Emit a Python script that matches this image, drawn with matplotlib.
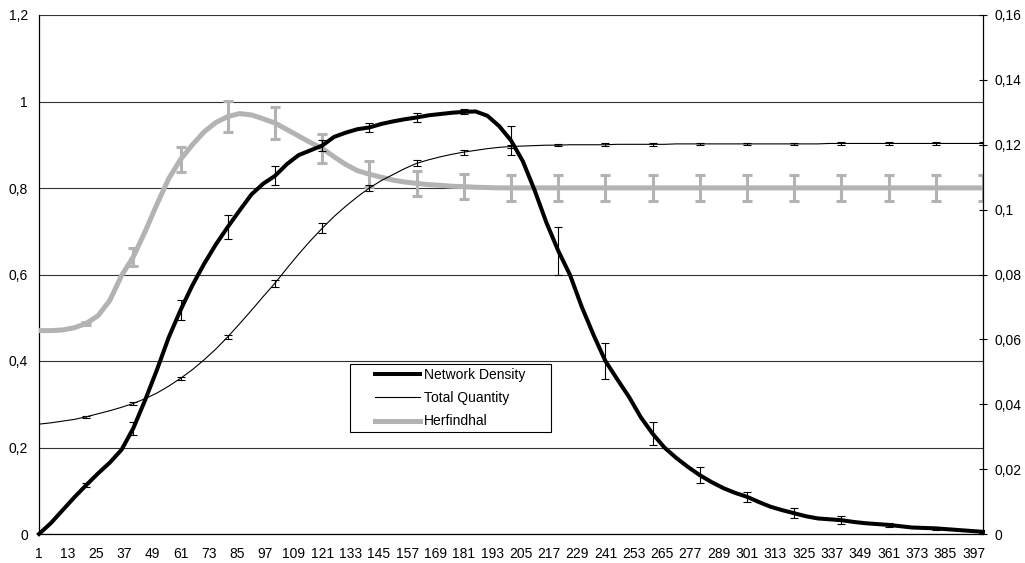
import matplotlib
matplotlib.use("Agg")
import matplotlib.pyplot as plt
from matplotlib.lines import Line2D
from matplotlib.patches import Rectangle

plt.rcParams['font.family'] = ['Liberation Sans', 'DejaVu Sans']
plt.rcParams['font.size'] = 10

# categories sampled every 5 steps (1 ... 401)
steps = list(range(1, 402, 5))

network_density = [
    0.0, 0.025, 0.055, 0.085, 0.113, 0.14, 0.165, 0.195, 0.245, 0.31,
    0.38, 0.455, 0.518, 0.575, 0.625, 0.67, 0.71, 0.748, 0.785, 0.81,
    0.828, 0.855, 0.876, 0.887, 0.898, 0.918, 0.928, 0.936, 0.94, 0.948,
    0.954, 0.959, 0.963, 0.968, 0.971, 0.974, 0.976, 0.977, 0.967, 0.943,
    0.91, 0.862, 0.795, 0.72, 0.655, 0.599, 0.525, 0.46, 0.40, 0.358,
    0.317, 0.27, 0.232, 0.2, 0.176, 0.155, 0.136, 0.12, 0.106, 0.095,
    0.086, 0.074, 0.063, 0.055, 0.048, 0.041, 0.036, 0.034, 0.032, 0.028,
    0.025, 0.023, 0.021, 0.018, 0.015, 0.014, 0.013, 0.011, 0.009, 0.007,
    0.005,
]

total_quantity = [
    0.254, 0.257, 0.261, 0.265, 0.271, 0.278, 0.285, 0.293, 0.302, 0.313,
    0.326, 0.342, 0.36, 0.38, 0.403, 0.428, 0.456, 0.486, 0.517, 0.549,
    0.58, 0.614, 0.647, 0.678, 0.707, 0.734, 0.758, 0.78, 0.80, 0.817,
    0.831, 0.845, 0.857, 0.865, 0.872, 0.878, 0.883, 0.887, 0.891, 0.894,
    0.896, 0.897, 0.898, 0.899, 0.899, 0.9, 0.9, 0.9, 0.9, 0.901,
    0.901, 0.901, 0.901, 0.901, 0.902, 0.902, 0.902, 0.902, 0.902, 0.902,
    0.902, 0.902, 0.902, 0.902, 0.902, 0.902, 0.902, 0.903, 0.903, 0.903,
    0.903, 0.903, 0.903, 0.903, 0.903, 0.903, 0.903, 0.903, 0.903, 0.903,
    0.903,
]

herfindhal = [
    0.0627, 0.0627, 0.0629, 0.0636, 0.0649, 0.0673, 0.0720, 0.0797, 0.0855, 0.0933,
    0.1017, 0.1096, 0.1155, 0.1200, 0.1240, 0.1269, 0.1287, 0.1296, 0.1292, 0.1280,
    0.1267, 0.1247, 0.1227, 0.1207, 0.1189, 0.1163, 0.1139, 0.1120, 0.1109, 0.1100,
    0.1091, 0.1085, 0.1081, 0.1077, 0.1075, 0.1072, 0.1071, 0.1069, 0.1068, 0.1067,
    0.1067, 0.1067, 0.1067, 0.1067, 0.1067, 0.1067, 0.1067, 0.1067, 0.1067, 0.1067,
    0.1067, 0.1067, 0.1067, 0.1067, 0.1067, 0.1067, 0.1067, 0.1067, 0.1067, 0.1067,
    0.1067, 0.1067, 0.1067, 0.1067, 0.1067, 0.1067, 0.1067, 0.1067, 0.1067, 0.1067,
    0.1067, 0.1067, 0.1067, 0.1067, 0.1067, 0.1067, 0.1067, 0.1067, 0.1067, 0.1067,
    0.1067,
]

# error bars every 20 steps
err_steps = list(range(21, 402, 20))
nd_err = [0.005, 0.015, 0.023, 0.027, 0.022, 0.012, 0.011, 0.010, 0.006, 0.033,
          0.055, 0.042, 0.027, 0.018, 0.012, 0.011, 0.009, 0.004, 0.003, 0.002]
tq_err = [0.002, 0.004, 0.003, 0.005, 0.008, 0.012, 0.008, 0.007, 0.006, 0.004,
          0.003, 0.003, 0.003, 0.003, 0.003, 0.003, 0.003, 0.003, 0.003, 0.003]
h_err = [0.0005, 0.0028, 0.0039, 0.0049, 0.0048, 0.0044, 0.0040, 0.0039, 0.0039, 0.0039,
         0.0039, 0.0039, 0.0039, 0.0039, 0.0039, 0.0039, 0.0039, 0.0039, 0.0039, 0.0039]

x_ticks = list(range(1, 402, 12))
left_ticks = [0, 0.2, 0.4, 0.6, 0.8, 1.0, 1.2]
left_labels = ["0", "0,2", "0,4", "0,6", "0,8", "1", "1,2"]
right_ticks = [0, 0.02, 0.04, 0.06, 0.08, 0.10, 0.12, 0.14, 0.16]
right_labels = ["0", "0,02", "0,04", "0,06", "0,08", "0,1", "0,12", "0,14", "0,16"]

GRAY = "#b3b3b3"


def at_steps(values):
    return [values[steps.index(s)] for s in err_steps]


fig = plt.figure(figsize=(10.25, 5.63), dpi=100)
ax = fig.add_axes([39 / 1025, 29 / 563, 944 / 1025, 519 / 563])
ax2 = ax.twinx()
ax3 = ax.twinx()
ax.set_zorder(1)
ax2.set_zorder(2)
ax3.set_zorder(3)
ax2.patch.set_visible(False)
ax3.patch.set_visible(False)

# base axis: grid, left ticks, category labels
ax.set_xlim(1, 401)
ax.set_ylim(0, 1.2)
ax.set_yticks(left_ticks)
ax.set_yticklabels(left_labels)
ax.set_xticks(x_ticks)
ax.set_xticklabels([str(t) for t in x_ticks])
ax.tick_params(axis="y", length=0, pad=8)
ax.tick_params(axis="x", length=0, pad=9)
ax.yaxis.grid(True, color="#333333", linewidth=0.8)
ax.set_axisbelow(True)
for side in ["top", "right"]:
    ax.spines[side].set_visible(False)
ax.spines["left"].set_linewidth(0.9)
ax.spines["bottom"].set_linewidth(0.9)

# right axis: Herfindhal
ax2.set_ylim(0, 0.16)
ax2.set_yticks(right_ticks)
ax2.set_yticklabels(right_labels)
ax2.tick_params(axis="y", direction="inout", length=6, width=0.8, pad=5)
for side in ["top", "left", "bottom"]:
    ax2.spines[side].set_visible(False)
ax2.spines["right"].set_linewidth(0.9)
ax2.plot(steps, herfindhal, color=GRAY, linewidth=3.6, solid_capstyle="butt")
ax2.errorbar(err_steps, at_steps(herfindhal), yerr=h_err, fmt="none",
             ecolor=GRAY, elinewidth=2.2, capsize=3.8, capthick=2.2)

# top layer: density and quantity on the left scale
ax3.set_ylim(0, 1.2)
ax3.set_yticks([])
for side in ax3.spines:
    ax3.spines[side].set_visible(False)
ax3.plot(steps, total_quantity, color="black", linewidth=0.8)
ax3.errorbar(err_steps, at_steps(total_quantity), yerr=tq_err, fmt="none",
             ecolor="black", elinewidth=0.8, capsize=2.9, capthick=0.8)
ax3.plot(steps, network_density, color="black", linewidth=2.9, clip_on=False)
ax3.errorbar(err_steps, at_steps(network_density), yerr=nd_err, fmt="none",
             ecolor="black", elinewidth=0.8, capsize=2.9, capthick=0.8)

# legend box with centred entries
box = (0.329, 0.1965, 0.213, 0.131)
ax3.add_patch(Rectangle(box[:2], box[2], box[3], transform=ax3.transAxes,
                        facecolor="white", edgecolor="black", linewidth=0.8,
                        zorder=5))
handles = [
    Line2D([], [], color="black", linewidth=2.9),
    Line2D([], [], color="black", linewidth=0.8),
    Line2D([], [], color=GRAY, linewidth=3.6),
]
labels = ["Network Density", "Total Quantity", "Herfindhal"]
leg = ax3.legend(handles, labels, loc="center",
                 bbox_to_anchor=(box[0] + box[2] / 2, box[1] + box[3] / 2),
                 frameon=False, handlelength=3.2, handletextpad=0.3,
                 labelspacing=0.68, borderpad=0, fontsize=10)
leg.set_zorder(6)

fig.savefig("out.png", dpi=100)
